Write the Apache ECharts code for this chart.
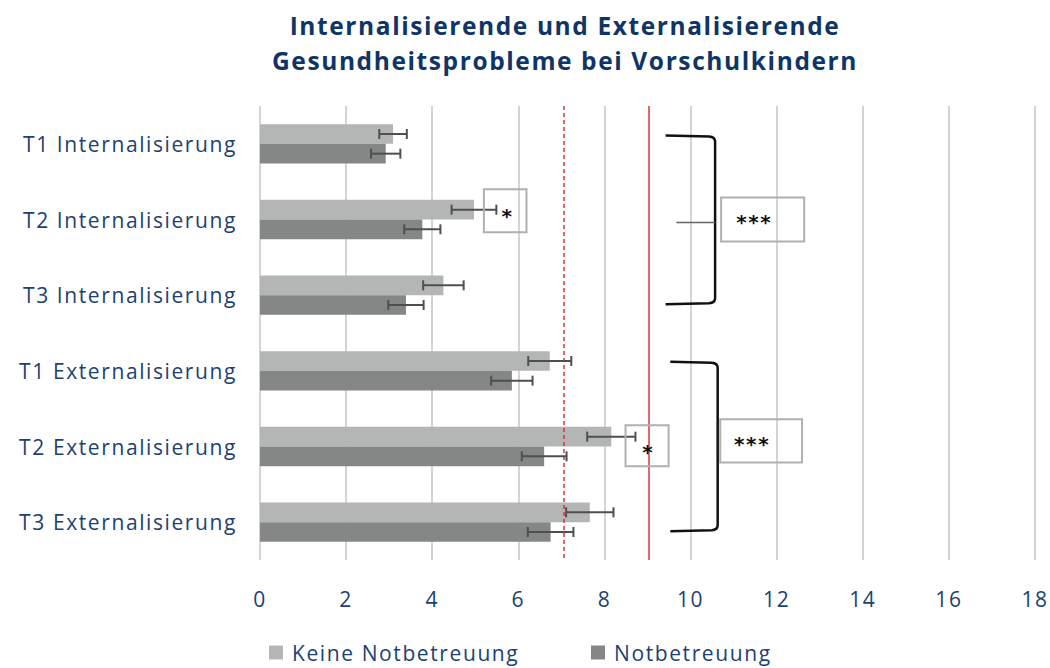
<!DOCTYPE html>
<html>
<head>
<meta charset="utf-8">
<script src="https://cdn.jsdelivr.net/npm/echarts@6/dist/echarts.min.js"></script>
<style>html,body{margin:0;padding:0;background:#fff;}#c{width:1050px;height:668px;letter-spacing:1.6px;}</style>
</head>
<body>
<div id="c"></div>
<script>
const categories = ['T1 Internalisierung','T2 Internalisierung','T3 Internalisierung','T1 Externalisierung','T2 Externalisierung','T3 Externalisierung'];
const keineValues = [3.09, 4.97, 4.26, 6.73, 8.16, 7.66];
const keineErrors = [0.32, 0.52, 0.47, 0.50, 0.56, 0.55];
const notValues = [2.92, 3.77, 3.39, 5.85, 6.60, 6.75];
const notErrors = [0.34, 0.42, 0.41, 0.48, 0.52, 0.53];
const xTicks = [0, 2, 4, 6, 8, 10, 12, 14, 16, 18];
const refDashed = 7.05;
const refSolid = 9.02;
const seriesNames = ['Keine Notbetreuung', 'Notbetreuung'];

// significance annotations (x in data units, y in category index + fraction of band)
const sigBoxes = [
  {x0: 5.2, x1: 6.19, cat: 1, f0: -0.40, f1: 0.17, tx: 5.75, tf: -0.10, text: '*'},
  {x0: 8.49, x1: 9.49, cat: 4, f0: -0.28, f1: 0.26, tx: 9.02, tf: 0.02, text: '*'},
  {x0: 10.71, x1: 12.64, cat: 1, f0: -0.29, f1: 0.29, tx: 11.48, tf: -0.02, text: '***'},
  {x0: 10.69, x1: 12.59, cat: 4, f0: -0.36, f1: 0.21, tx: 11.43, tf: -0.08, text: '***'}
];
const braces = [
  {x0: 9.42, x1: 10.57, catTop: 0, fTop: -0.11, catBot: 2, fBot: 0.12, tick: true, tickX: 9.67, tickCat: 1, tickF: 0.04},
  {x0: 9.53, x1: 10.63, catTop: 3, fTop: -0.12, catBot: 5, fBot: 0.12, tick: false}
];

const NAVY = '#1c4174';
const FONT = 'Open Sans';
const BAR_FRAC = 0.26;

const chart = echarts.init(document.getElementById('c'), null, {renderer: 'svg'});

function errRender(side) {
  return function (params, api) {
    const v = api.value(0), cat = api.value(1), e = api.value(2);
    const band = api.size([0, 1])[1];
    const bw = band * BAR_FRAC;
    const cy = api.coord([v, cat])[1] + side * bw / 2;
    const xl = api.coord([v - e, cat])[0];
    const xr = api.coord([v + e, cat])[0];
    const h = 5;
    const st = {stroke: '#4d4f52', lineWidth: 2};
    return {type: 'group', children: [
      {type: 'line', shape: {x1: xl, y1: cy, x2: xr, y2: cy}, style: st},
      {type: 'line', shape: {x1: xl, y1: cy - h, x2: xl, y2: cy + h}, style: st},
      {type: 'line', shape: {x1: xr, y1: cy - h, x2: xr, y2: cy + h}, style: st}
    ]};
  };
}

function annRender(params, api) {
  const band = api.size([0, 1])[1];
  const children = [];
  sigBoxes.forEach(b => {
    const p0 = api.coord([b.x0, b.cat]);
    const p1 = api.coord([b.x1, b.cat]);
    const y0 = p0[1] + b.f0 * band, y1 = p0[1] + b.f1 * band;
    children.push({type: 'rect', shape: {x: p0[0], y: y0, width: p1[0] - p0[0], height: y1 - y0},
      style: {fill: 'rgba(255,255,255,0)', stroke: '#b0b0b0', lineWidth: 2}});
    const t = api.coord([b.tx, b.cat]);
    children.push({type: 'text', x: t[0], y: t[1] + b.tf * band + 4,
      style: {text: b.text, fill: '#111', font: 'bold 20px "DejaVu Sans"', align: 'center', verticalAlign: 'middle'}});
  });
  braces.forEach(b => {
    const a = api.coord([b.x0, b.catTop]);
    const c = api.coord([b.x1, b.catBot]);
    const xl = a[0], xr = c[0];
    const yt = a[1] + b.fTop * band, yb = c[1] + b.fBot * band;
    const r = 6;
    children.push({type: 'path', shape: {pathData:
      'M' + xl + ' ' + yt + ' L' + (xr - r) + ' ' + (yt + 1) + ' Q' + xr + ' ' + (yt + 1.5) + ' ' + xr + ' ' + (yt + r) +
      ' L' + xr + ' ' + (yb - r) + ' Q' + xr + ' ' + (yb - 1.5) + ' ' + (xr - r) + ' ' + (yb - 1) + ' L' + xl + ' ' + yb},
      style: {fill: 'none', stroke: '#111', lineWidth: 2.5}});
    if (b.tick) {
      const tk = api.coord([b.tickX, b.tickCat]);
      const ty = tk[1] + b.tickF * band;
      children.push({type: 'line', shape: {x1: tk[0], y1: ty, x2: xr, y2: ty}, style: {stroke: '#666', lineWidth: 1.5}});
    }
  });
  return {type: 'group', children: children};
}

const legendBase = {
  top: 642, padding: 0, itemWidth: 14, itemHeight: 14, icon: 'rect',
  textStyle: {fontFamily: FONT, fontSize: 21, color: NAVY, padding: [0, 0, 0, 4]}
};

const option = {
  animation: false,
  backgroundColor: '#ffffff',
  title: {
    text: 'Internalisierende und Externalisierende\nGesundheitsprobleme bei Vorschulkindern',
    left: 560, textAlign: 'center', top: 3,
    textStyle: {fontFamily: FONT, fontWeight: 'bold', fontSize: 24.5, color: '#0f3566', lineHeight: 35}
  },
  legend: [
    Object.assign({data: [seriesNames[0]], left: 269}, legendBase),
    Object.assign({data: [seriesNames[1]], left: 591}, legendBase)
  ],
  grid: {left: 260, right: 14, top: 106, bottom: 108, containLabel: false},
  xAxis: {
    type: 'value', min: 0, max: 18, interval: 2,
    axisLine: {show: false}, axisTick: {show: false},
    axisLabel: {fontFamily: FONT, fontSize: 21, color: NAVY, margin: 28,
      formatter: v => xTicks.indexOf(v) >= 0 ? String(v) : ''},
    splitLine: {show: true, lineStyle: {color: '#d4d4d4', width: 2}}
  },
  yAxis: {
    type: 'category', data: categories, inverse: true,
    axisLine: {show: false}, axisTick: {show: false},
    axisLabel: {fontFamily: FONT, fontSize: 21, color: NAVY, margin: 23}
  },
  series: [
    {
      name: seriesNames[0], type: 'bar', data: keineValues, barWidth: (BAR_FRAC * 100) + '%', barGap: '0%',
      itemStyle: {color: '#b4b6b6'},
      markLine: {
        silent: true, symbol: 'none', label: {show: false},
        data: [
          {xAxis: refDashed, lineStyle: {color: '#d8343c', width: 1.5, type: [4, 3]}},
          {xAxis: refSolid, lineStyle: {color: '#d8343c', width: 1.5, type: 'solid'}}
        ]
      },
      z: 2
    },
    {
      name: seriesNames[1], type: 'bar', data: notValues, barWidth: (BAR_FRAC * 100) + '%', barGap: '0%',
      itemStyle: {color: '#858787'}, z: 2
    },
    {
      type: 'custom', name: 'errK', renderItem: errRender(-1), z: 5,
      data: keineValues.map((v, i) => [v, i, keineErrors[i]]), encode: {x: 0, y: 1}
    },
    {
      type: 'custom', name: 'errN', renderItem: errRender(1), z: 5,
      data: notValues.map((v, i) => [v, i, notErrors[i]]), encode: {x: 0, y: 1}
    },
    {
      type: 'custom', name: 'ann', renderItem: annRender, z: 6, silent: true,
      data: [[0, 0]], encode: {x: 0, y: 1}
    }
  ]
};
chart.setOption(option);
</script>
</body>
</html>
